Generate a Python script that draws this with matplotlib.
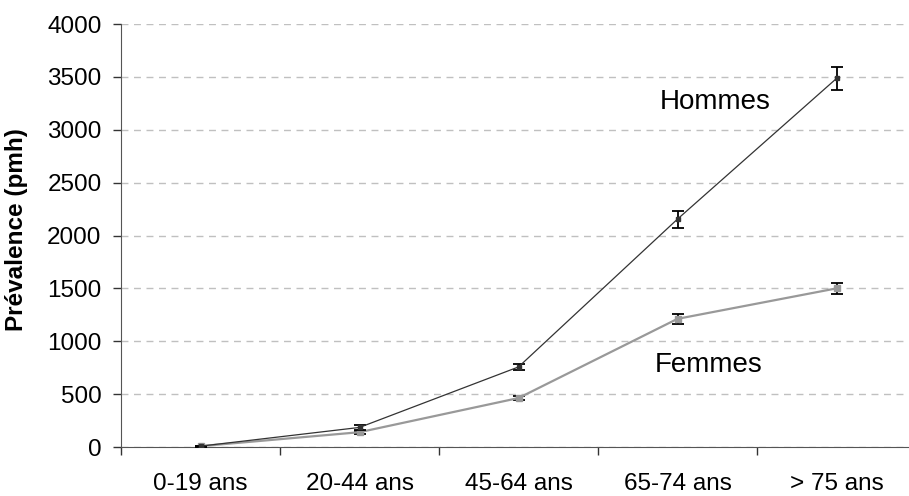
import matplotlib
matplotlib.use("Agg")
import matplotlib.pyplot as plt

plt.rcParams['font.family'] = ['Liberation Sans', 'DejaVu Sans']

categories = ["0-19 ans", "20-44 ans", "45-64 ans", "65-74 ans", "> 75 ans"]
hommes = [8, 185, 757, 2155, 3485]
hommes_err = [5, 25, 30, 80, 110]
femmes = [8, 140, 463, 1212, 1500]
femmes_err = [5, 15, 20, 50, 50]
yticks = list(range(0, 4001, 500))

fig = plt.figure(figsize=(9.09, 4.96), dpi=100)
ax = fig.add_axes([121/909, 49/496, 795/909, 423/496])

x = list(range(len(categories)))
ax.errorbar(x, femmes, yerr=femmes_err, color='#999999', lw=1.6, marker='s',
            ms=5, mec='#999999', ecolor='black', elinewidth=1.3, capsize=4,
            capthick=1.3, zorder=3)
ax.errorbar(x, hommes, yerr=hommes_err, color='#333333', lw=0.9, marker='s',
            ms=2.5, ecolor='black', elinewidth=1.3, capsize=4, capthick=1.3,
            zorder=4)

ax.text(2.89, 3260, "Hommes", fontsize=20, va='center', ha='left')
ax.text(2.86, 775, "Femmes", fontsize=20, va='center', ha='left')

ax.set_xlim(-0.5, 4.5)
ax.set_ylim(0, 4000)
ax.set_yticks(yticks)
ax.set_xticks(x)
ax.set_xticklabels(categories)
ax.set_xticks([i + 0.5 for i in range(-1, 5)], minor=True)
ax.tick_params(axis='x', which='major', length=0, labelsize=17.5, pad=19)
ax.tick_params(axis='x', which='minor', length=6, width=1, color='#333333')
ax.tick_params(axis='y', length=6, width=1, color='#333333', labelsize=17.5,
               pad=8)
ax.yaxis.grid(True, ls=(0, (5, 4)), color='#c0c0c0', lw=1)
ax.set_axisbelow(True)
for s in ['top', 'right']:
    ax.spines[s].set_visible(False)
for s in ['left', 'bottom']:
    ax.spines[s].set_color('#555555')
ax.set_ylabel("Prévalence (pmh)", fontsize=17.5, fontweight='bold')
ax.yaxis.set_label_coords(-93/795, 0.515)

fig.savefig("out.png", dpi=100)
